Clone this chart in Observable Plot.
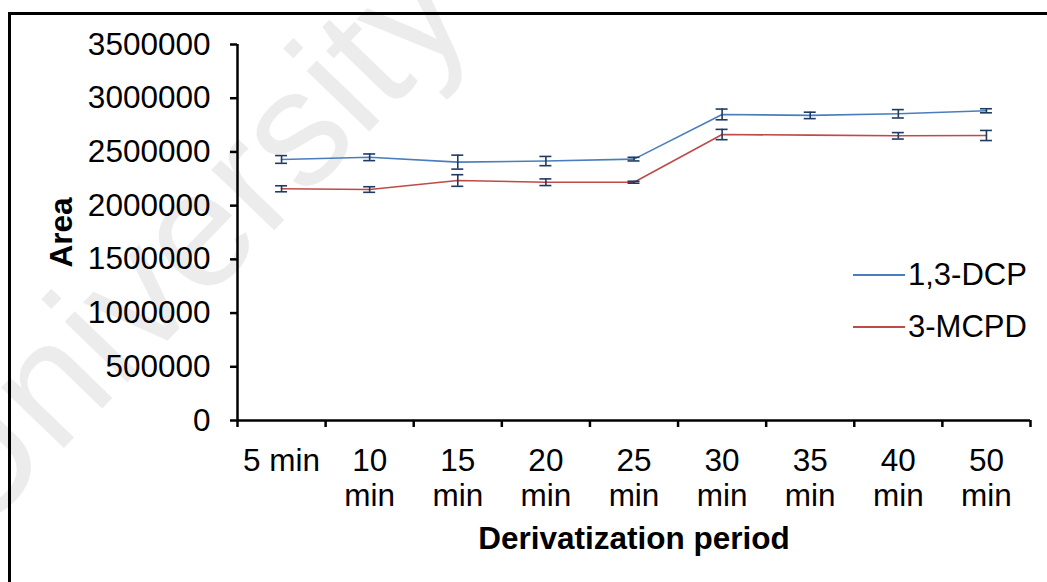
<!DOCTYPE html>
<html>
<head>
<meta charset="utf-8">
<script src="https://cdn.jsdelivr.net/npm/d3@7"></script>
<script src="https://cdn.jsdelivr.net/npm/@observablehq/plot@0.6"></script>
<style>
  html, body { margin: 0; padding: 0; background: #fff; overflow: hidden; }
  #wrap { position: relative; width: 1047px; height: 582px; overflow: hidden; font-family: "Liberation Sans", Arial, sans-serif; }
  #border { position: absolute; left: 8px; top: 12px; width: 1200px; height: 800px; border: 3px solid #000; box-sizing: border-box; }
  #watermark { position: absolute; left: -8px; top: 395px; height: 165px; font-size: 165px; color: #ececec; white-space: nowrap; transform-origin: 0 100%; transform: rotate(-46deg); line-height: 1; }
  #chart { position: absolute; left: 0; top: 0; }
  .leg { position: absolute; font-size: 31px; color: #000; display: flex; align-items: center; }
  .leg .sw { display: inline-block; width: 52px; height: 1.5px; margin-right: 3px; }
</style>
</head>
<body>
<div id="wrap">
  <div id="watermark">University</div>
  <div id="border"></div>
  <div id="chart"></div>
  <div id="legend"></div>
</div>
<script>
// ---- data ----
const periods = ["5 min", "10 min", "15 min", "20 min", "25 min", "30 min", "35 min", "40 min", "50 min"];
const tickLabels = ["5 min", "10\nmin", "15\nmin", "20\nmin", "25\nmin", "30\nmin", "35\nmin", "40\nmin", "50\nmin"];
const yTicks = [0, 500000, 1000000, 1500000, 2000000, 2500000, 3000000, 3500000];
const seriesNames = ["1,3-DCP", "3-MCPD"];
const dcp = [2430000, 2450000, 2405000, 2415000, 2433000, 2849000, 2840000, 2855000, 2883000];
const dcpErr = [36000, 31000, 65000, 43000, 17000, 50000, 30000, 39000, 19000];
const mcpd = [2157000, 2150000, 2234000, 2218000, 2218000, 2662000, 2656000, 2650000, 2653000];
const mcpdErr = [28000, 26000, 54000, 31000, 9000, 48000, 0, 30000, 47000];
const colors = ["#4a7ebb", "#be4b48"];
const errColor = "#1f3b63";

// ---- build table ----
const rows = [];
periods.forEach((p, i) => {
  rows.push({series: seriesNames[0], i, value: dcp[i], err: dcpErr[i]});
  rows.push({series: seriesNames[1], i, value: mcpd[i], err: mcpdErr[i]});
});
const errRows = rows.filter(d => d.err > 0);
const cap = 0.068;
const FS = 31.5;

const chart = Plot.plot({
  width: 1047,
  height: 582,
  marginLeft: 237,
  marginRight: 17,
  marginTop: 44,
  marginBottom: 162,
  style: {fontFamily: "'Liberation Sans', Arial, sans-serif", fontSize: FS + "px", background: "transparent", color: "#000"},
  x: {type: "linear", domain: [0, periods.length], axis: null},
  y: {domain: [0, 3500000], axis: null},
  color: {domain: seriesNames, range: colors},
  marks: [
    Plot.axisY({ticks: yTicks, tickFormat: d3.format("d"), tickSize: 7, tickPadding: 20, strokeWidth: 2.5, label: null}),
    Plot.axisX({ticks: d3.range(periods.length + 1), tickFormat: () => "", tickSize: 7, strokeWidth: 2.5, label: null}),
    Plot.axisX({ticks: periods.map((p, i) => i + 0.5), tickFormat: (d, i) => tickLabels[i], tickSize: 0, tickPadding: 26, lineHeight: 1.1, label: null}),
    Plot.ruleX([0], {stroke: "#000", strokeWidth: 2.5}),
    Plot.ruleY([0], {stroke: "#000", strokeWidth: 2.5}),
    Plot.line(rows, {x: d => d.i + 0.5, y: "value", z: "series", stroke: "series", strokeWidth: 1.6}),
    Plot.ruleX(errRows, {x: d => d.i + 0.5, y1: d => d.value - d.err, y2: d => d.value + d.err, stroke: errColor, strokeWidth: 1.6}),
    Plot.ruleY(errRows, {y: d => d.value - d.err, x1: d => d.i + 0.5 - cap, x2: d => d.i + 0.5 + cap, stroke: errColor, strokeWidth: 1.6}),
    Plot.ruleY(errRows, {y: d => d.value + d.err, x1: d => d.i + 0.5 - cap, x2: d => d.i + 0.5 + cap, stroke: errColor, strokeWidth: 1.6}),
    Plot.text(["Area"], {frameAnchor: "left", rotate: -90, dx: -176, textAnchor: "middle", lineAnchor: "middle", fontWeight: "bold", fontSize: FS}),
    Plot.text(["Derivatization period"], {frameAnchor: "bottom", dy: 118, textAnchor: "middle", lineAnchor: "middle", fontWeight: "bold", fontSize: FS})
  ]
});
document.getElementById("chart").appendChild(chart);

// ---- legend ----
const legend = document.getElementById("legend");
const legendTops = [275, 327];
seriesNames.forEach((name, k) => {
  const item = document.createElement("div");
  item.className = "leg";
  item.style.left = "853px";
  item.style.top = (legendTops[k] - 18) + "px";
  item.style.height = "36px";
  const sw = document.createElement("span");
  sw.className = "sw";
  sw.style.backgroundColor = colors[k];
  const label = document.createElement("span");
  label.textContent = name;
  item.appendChild(sw);
  item.appendChild(label);
  legend.appendChild(item);
});
</script>
</body>
</html>
